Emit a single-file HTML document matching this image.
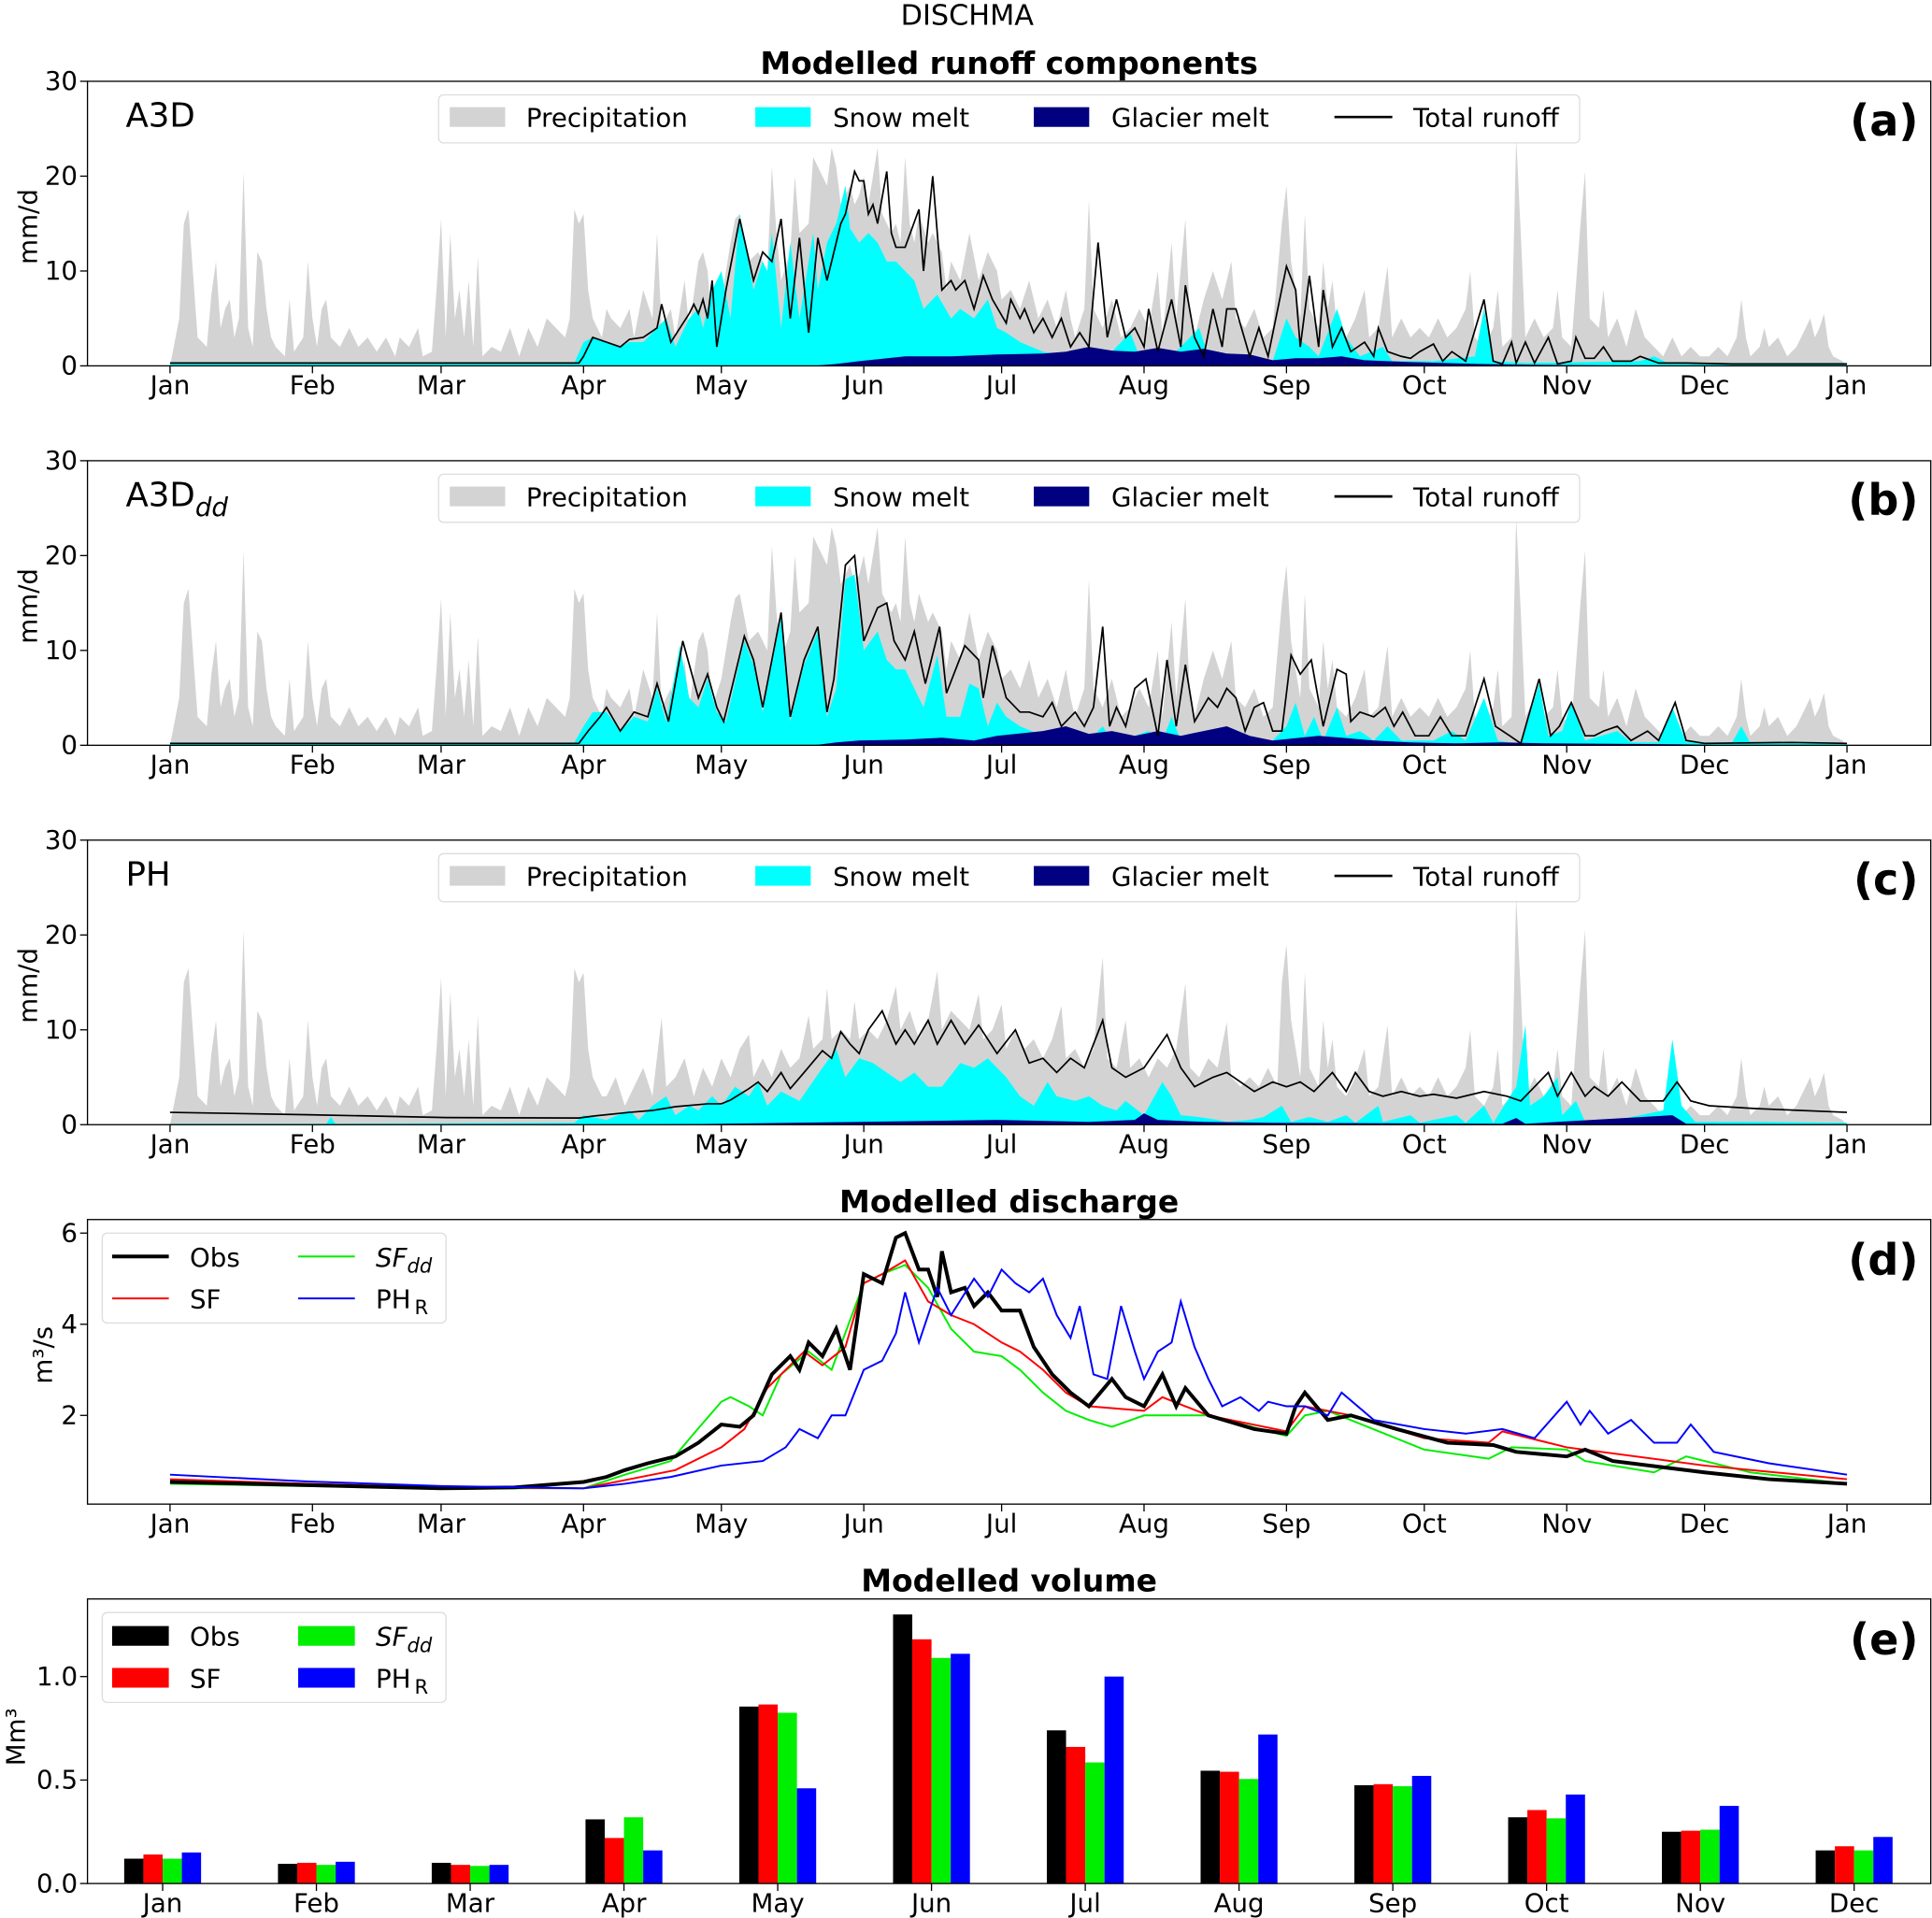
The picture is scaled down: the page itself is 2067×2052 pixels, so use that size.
<!DOCTYPE html>
<html><head><meta charset="utf-8">
<style>
html,body{margin:0;padding:0;background:#fff;}
svg{display:block;font-family:"DejaVu Sans","Liberation Sans",sans-serif;}
</style></head>
<body>
<svg id="fig" width="2067" height="2052" viewBox="0 0 1568 1557" preserveAspectRatio="none" xmlns="http://www.w3.org/2000/svg">
<text x="785" y="20" font-size="23" text-anchor="middle">DISCHMA</text>
<text x="819" y="60" font-size="25" font-weight="bold" text-anchor="middle">Modelled runoff components</text>
<text x="819" y="984" font-size="25" font-weight="bold" text-anchor="middle">Modelled discharge</text>
<text x="819" y="1292" font-size="25" font-weight="bold" text-anchor="middle">Modelled volume</text>
</svg>
<script>
// ---------- data ----------
const monthLabels = ["Jan","Feb","Mar","Apr","May","Jun","Jul","Aug","Sep","Oct","Nov","Dec","Jan"];
const monthStartDays = [0,31,59,90,120,151,181,212,243,273,304,334,365];
const runoffTicks = [0,10,20,30];
const dischargeTicks = [2,4,6];
const volumeTicks = [0.0,0.5,1.0];
const volumeTickLabels = ["0.0","0.5","1.0"];

const precipA = [[0,0],[2,5],[3,15],[4,16.5],[6,3],[8,2],[9,7.5],[10,11],[11,4],[12,6],[13,7],[14,3],[15,5],[16,20.5],[17,4],[18,2],[19,12],[20,11],[21,6],[22,3],[23,2],[25,1],[26,7],[27,1.5],[29,3],[30,11],[31,5],[32,2],[33,6],[34,7],[35,3],[37,2],[39,4],[41,2],[43,3],[45,1.5],[47,3],[49,1],[50,3],[52,2],[54,4],[55,1],[57,1.5],[58,8],[59,15.5],[60,3],[61,14],[62,5],[63,8],[64,3],[65,9],[66,2],[67,11.5],[68,1],[70,2],[72,1.5],[74,4],[76,1],[78,4],[80,2],[82,5],[84,4],[86,3],[87,5],[88,16.5],[89,15],[90,16],[91,8],[92,5],[94,3],[95,6],[96,5],[98,4],[100,6],[101,3],[103,8],[105,5],[106,14],[107,4],[109,6],[110,3],[112,9],[113,4],[115,11],[116,12],[117,10],[118,4],[120,7],[122,13],[123,15.5],[124,16],[126,11],[128,12],[130,10],[131,21],[132,14],[133,9],[135,12],[136,20],[137,14],[139,15],[140,22],[141,21],[142,20],[143,19],[144,23],[145,21],[146,17],[147,18],[148,19],[149,17],[150,18],[151,20],[152,17],[154,23],[155,16],[157,14],[158,15],[159,13],[160,22],[161,15],[162,13],[163,16],[165,13],[166,14],[168,12],[169,8],[170,11],[172,9],[174,14],[176,9],[178,12],[180,10],[181,7],[183,8],[185,6],[187,9],[189,5],[191,7],[193,4],[195,8],[196,5],[197,3],[199,6],[200,17.5],[201,6],[203,4],[205,7],[207,3],[209,4],[211,6],[213,4],[215,10],[216,3],[218,13],[219,5],[221,15.5],[222,5],[223,3],[225,7],[227,10],[229,7],[231,11],[232,5],[234,4],[236,6],[238,3],[240,4],[242,15],[243,19],[244,11],[246,5],[247,16],[248,6],[250,4],[251,11],[252,6],[253,9],[254,4],[256,3],[258,5],[260,8],[261,3],[263,4],[265,10.5],[266,3],[268,5],[270,3],[272,4],[274,3],[276,5],[278,3],[280,4],[282,6],[283,10],[284,3],[286,2],[288,4],[289,8],[290,2],[292,3],[293,24],[294,14],[295,3],[297,5],[299,3],[301,4],[302,8],[303,3],[305,2],[307,15],[308,20.5],[309,5],[311,4],[312,8],[313,3],[315,5],[317,2],[319,6],[321,3],[323,2],[325,1],[327,3],[329,1],[331,2],[333,1],[335,1],[337,2],[339,1],[341,3],[342,7],[343,3],[344,1],[346,2],[347,4],[348,2],[350,3],[352,1],[354,2],[356,4],[357,5],[358,3],[359,4],[360,5.5],[361,2],[362,1],[364,0.5],[365,0]];
const precipCMid = [[95,3],[97,5],[99,2],[101,4],[103,6],[105,3],[107,11.3],[108,4],[110,5],[112,7],[114,3],[116,6],[118,4],[120,7],[122,5],[124,8],[126,9.5],[127,5],[129,7],[131,5],[133,8],[135,6],[137,7],[139,11.5],[140,8],[142,9],[143,14.4],[144,9],[146,10],[148,9],[149,13],[150,9],[152,10],[154,9],[156,11],[158,14.6],[159,10],[161,12],[163,9],[165,11],[167,16.2],[168,10],[170,12],[172,11],[174,10],[176,13.8],[177,9],[179,10],[181,12.7],[182,8],[184,10],[186,8],[188,9],[190,7],[192,9],[194,12.5],[195,7],[197,8],[199,6],[201,8],[203,17.7],[204,7],[206,6],[208,11],[209,6],[211,7],[213,5],[215,7],[217,6],[219,8],[221,14.9],[222,6],[224,5],[226,7],[228,6],[230,10.8],[231,5],[233,4],[235,5],[237,4],[239,6],[241,4]];

const snowA = [[0,0.3],[88,0.3],[90,2.5],[92,3],[95,2.5],[98,2],[100,2.5],[103,2.5],[106,4],[108,5],[110,2],[113,5],[115,6],[116,4],[118,8],[120,10],[122,5],[124,16],[127,8],[129,11],[130,10],[131,14],[133,4],[135,13],[137,5],[140,14],[141,8],[143,13],[145,15],[147,19],[148,14.5],[150,13],[152,14],[154,13],[156,11],[158,11],[160,10],[162,9],[164,6],[167,7.5],[170,5],[172,6],[175,5],[178,7],[180,4],[182,3.5],[185,2.5],[190,1.5],[195,1],[199,1.5],[202,1],[205,1.5],[209,3.5],[211,1],[218,1],[224,4],[226,1],[235,0.8],[240,0.5],[243,5],[245,3],[248,2],[250,1],[254,6],[256,3],[259,1],[264,2],[266,0.5],[275,0.5],[284,1],[286,6],[288,0.5],[295,0.3],[320,0.5],[323,1],[326,0.3],[365,0.3]];
const glacierA = [[0,0],[140,0],[145,0.2],[150,0.5],[160,1],[170,1],[180,1.2],[190,1.3],[195,1.5],[200,2],[205,1.6],[210,1.5],[215,1.9],[220,1.5],[225,1.8],[230,1.3],[235,1.2],[240,0.6],[245,0.8],[250,0.8],[255,1],[260,0.6],[270,0.4],[285,0.2],[300,0.1],[320,0],[365,0]];
const totalA = [[0,0.3],[89,0.3],[90,1],[92,3],[95,2.5],[98,2],[100,2.8],[103,3],[106,4],[107,6.5],[109,2.5],[111,4],[113,5.5],[114,6.5],[115,5.5],[116,7],[117,5],[118,9],[119,2],[120,5],[121,8],[124,15.5],[127,9],[129,12],[131,11],[133,15.5],[135,5],[137,13.5],[139,3.5],[141,13.5],[143,9],[146,15],[147,16],[149,20.5],[150,19.5],[151,19.5],[152,16],[153,17],[154,15],[156,20.5],[157,14],[158,12.5],[160,12.5],[163,16.5],[164,10],[166,20],[168,8],[170,9],[171,8],[173,9],[175,6],[177,9.5],[179,7],[182,4.5],[183,7],[185,5],[186,6],[188,3.5],[190,5],[192,3],[194,5],[196,2],[198,3.5],[200,2],[202,13],[204,3],[206,7],[208,3],[210,4],[212,2],[213,6],[215,1.5],[218,7],[220,2],[221,8.5],[223,3],[225,1],[227,6],[229,2],[230,6],[232,6],[235,1],[237,4],[239,1],[243,10.5],[245,8],[246,2],[248,9.5],[250,2],[251,8],[253,2],[255,4],[257,1.5],[260,2.5],[262,1],[263,4],[265,1.5],[268,1],[270,0.8],[272,1.5],[275,2.3],[277,0.5],[279,1.5],[282,0.5],[286,7],[288,0.5],[290,0.2],[292,2.5],[293,0.3],[295,2.5],[297,0.3],[300,3],[302,0.2],[305,0.5],[306,3],[308,0.8],[310,0.8],[312,2],[314,0.5],[318,0.5],[320,1],[324,0.3],[330,0.3],[340,0.2],[365,0.2]];

const snowB = [[0,0.3],[88,0.3],[90,2],[92,3.5],[95,3.5],[98,1.5],[101,3],[104,2.5],[106,6],[108,2.5],[111,10.5],[113,5],[115,4],[117,7],[119,3.5],[121,2.5],[125,11],[127,8.5],[129,3.5],[133,13.5],[135,2.5],[138,8.5],[141,12],[143,3],[145,6],[147,17.5],[149,18],[151,10],[154,12],[156,9],[158,8],[160,8],[162,6],[164,4],[167,9.5],[169,3],[172,3],[174,6.5],[176,6],[178,2],[180,4.5],[182,3],[185,2],[190,1],[195,1],[200,0.5],[203,2],[205,0.5],[210,1],[213,1.5],[216,0.5],[218,3],[220,0.5],[226,1],[232,1],[236,0.5],[240,0.5],[243,2],[245,4.5],[247,1],[249,3],[251,0.5],[254,4],[256,1],[259,1.5],[262,0.5],[265,2],[268,0.5],[275,0.5],[279,1.5],[282,0.5],[286,5],[289,0.5],[294,0.1],[298,6.5],[300,1],[303,1.5],[305,4.5],[308,0.5],[315,1.5],[318,0.3],[324,0.3],[327,4],[330,0.3],[340,0.3],[342,2],[344,0.2],[365,0.2]];
const glacierB = [[0,0],[140,0],[145,0.3],[150,0.5],[160,0.6],[168,0.8],[175,0.5],[180,1],[190,1.5],[195,2],[200,1.2],[205,1.5],[210,1],[215,1.5],[220,1],[230,2],[235,1],[240,0.5],[250,1],[255,0.8],[262,0.5],[270,0.3],[280,0.2],[290,0.3],[300,0.2],[330,0.1],[340,0],[365,0]];
const totalB = [[0,0.2],[89,0.2],[91,1.5],[93.6,3],[95,4],[98,1.5],[101,3.5],[104,3],[106,6.5],[108.5,2.5],[111.6,11],[115,5],[117,7.5],[119,4],[120.5,2.5],[125,11.5],[127,9],[129,4],[133,14],[135,3],[138,9],[141,12.5],[143,3.5],[144.5,7],[147,19],[149,20],[151,11],[154,14.5],[156,15],[157.6,11],[160,9],[162,12],[164.4,6.5],[167.5,12.5],[169,5.5],[173,10.5],[176,9],[177,5],[179,10.5],[182,5],[185,3.5],[187,3.5],[190,3],[192,4.5],[194,2],[197,3.5],[199,2],[201,4],[203,12.5],[204.5,2],[206,4],[208,2],[210,6],[212.4,7],[215,1],[217,9],[219,2],[221,8.5],[223,2.5],[226,5],[228,4],[230,6],[232,5],[234,1.5],[236,4],[238,4.5],[240,1.5],[242,1.5],[244,9.5],[246,7.5],[248.4,9],[251,2],[254,8],[256,7.5],[257,2.5],[259,3.5],[262,3],[264.5,4],[266.4,2],[268.3,3.5],[271,1],[274,1],[276.5,3],[279,1],[282,1],[286,7],[288.5,2],[291.6,1],[294,0.2],[298,7],[300.5,1],[302.4,2],[305,4.5],[308,1],[310,1],[312,1.5],[315,2],[318,0.5],[321.6,1.5],[324,0.5],[327.6,4.5],[330,0.5],[334,0.2],[353,0.3],[365,0.2]];

const snowC = [[0,0.1],[34,0.1],[35,0.8],[36,0.1],[88,0.2],[90,1],[95,0.5],[100,1.5],[102,0.5],[105,2],[108,3],[110,1],[113,2],[115,1.5],[118,3],[120,2],[123,4],[126,3],[128,4.5],[130,2],[133,3.5],[137,2.5],[142,6],[145,8],[147,5],[150,7],[153,6.5],[156,5.5],[159,4.5],[162,5.5],[165,4],[168,4],[172,6.5],[175,6],[178,7],[182,5],[185,3],[188,2],[191,4.5],[193,3],[197,2.5],[200,3],[203,2],[206,1.5],[208,2.5],[212,1],[216,4.5],[218,3],[220,1],[224,0.8],[228,0.5],[230,0.3],[235,0.5],[238,0.8],[242,2],[244,0.3],[248,0.8],[252,0.3],[256,1],[258,0.2],[263,2],[264,0.3],[270,1],[272,0.2],[280,1],[282,0.2],[286,2],[288,0.2],[293,4],[295,10.5],[296,2],[299,3],[302,5],[303,1],[306,2.5],[308,0.3],[315,0.5],[325,1.5],[327,9],[329,2],[332,0.3],[345,0.3],[365,0.2]];
const glacierC = [[0,0],[100,0],[120,0.1],[150,0.3],[180,0.5],[200,0.3],[210,0.5],[212,1.2],[215,0.5],[225,0.3],[240,0.2],[290,0.1],[293,0.7],[295,0.1],[327,1],[330,0.1],[365,0]];
const totalC = [[0,1.3],[30,1.05],[60,0.75],[89,0.7],[92,0.9],[100,1.3],[105,1.5],[110,1.9],[117,2.2],[120,2.2],[122,2.6],[126,3.8],[128,4.5],[130,3.5],[133,5.5],[135,3.8],[138,5.5],[142,7.8],[144,7],[146,9.8],[148,8.5],[150,7.5],[152,10],[155,12],[158,8.5],[160,10],[162,8.5],[165,11],[167,8.5],[170,11],[173,8.5],[176,10.5],[180,7.5],[184,10],[187,6.5],[190,7],[193,5.5],[196,7],[199,6],[203,11],[205,6],[208,5],[212,6],[217,9.5],[220,6],[223,4],[227,5],[230,5.5],[233,4.5],[236,3.5],[240,4.5],[243,4],[246,4.5],[249,3.5],[253,5.5],[256,3.5],[258,5.5],[261,3.5],[264,3],[268,3.5],[272,3],[275,3.2],[280,2.8],[286,3.5],[291,3],[294,2.5],[297,4],[300,5.5],[302,3],[305,5.5],[308,3],[310,4],[313,3],[316,4.5],[320,2.5],[325,2.5],[328,4.5],[331,2.5],[335,2],[345,1.7],[365,1.3]];

const obsQ = [[0,0.54],[30,0.47],[59,0.4],[75,0.42],[90,0.54],[95,0.65],[99,0.8],[104,0.95],[110,1.1],[115,1.4],[120,1.8],[124,1.75],[127,2.0],[131,2.9],[135,3.3],[137,3.0],[139,3.6],[142,3.3],[145,3.9],[148,3.0],[151,5.1],[155,4.9],[158,5.9],[160,6.0],[163,5.2],[165,5.2],[167,4.6],[168,5.6],[170,4.7],[173,4.8],[175,4.4],[178,4.7],[181,4.3],[185,4.3],[188,3.5],[192,2.9],[196,2.5],[200,2.2],[205,2.8],[208,2.4],[212,2.2],[216,2.9],[219,2.2],[221,2.6],[226,2.0],[236,1.7],[243,1.6],[245,2.2],[247,2.5],[252,1.9],[257,2.0],[267,1.7],[278,1.4],[288,1.35],[293,1.2],[304,1.1],[308,1.25],[314,1.0],[334,0.75],[348,0.6],[365,0.5]];
const sfQ = [[0,0.6],[30,0.5],[59,0.42],[90,0.4],[100,0.6],[110,0.8],[120,1.3],[125,1.7],[130,2.6],[138,3.4],[142,3.1],[147,3.5],[151,4.9],[155,5.1],[160,5.4],[165,4.5],[170,4.2],[175,4.0],[181,3.6],[185,3.4],[190,3.0],[195,2.5],[200,2.2],[212,2.1],[216,2.4],[226,2.0],[243,1.65],[247,2.2],[257,2.0],[273,1.5],[287,1.4],[290,1.65],[304,1.3],[334,0.9],[365,0.6]];
const sfddQ = [[0,0.5],[30,0.45],[59,0.4],[90,0.4],[99,0.7],[109,1.0],[114,1.6],[120,2.3],[122,2.4],[126,2.2],[129,2.0],[133,2.9],[139,3.4],[144,3.0],[151,4.9],[155,5.1],[160,5.3],[165,4.8],[170,3.9],[175,3.4],[181,3.3],[185,3.0],[190,2.5],[195,2.1],[200,1.9],[205,1.75],[212,2.0],[221,2.0],[226,2.0],[243,1.55],[247,2.0],[252,2.1],[273,1.25],[287,1.05],[292,1.3],[304,1.25],[308,1.0],[323,0.75],[330,1.1],[344,0.75],[365,0.5]];
const phQ = [[0,0.7],[30,0.55],[59,0.45],[90,0.4],[99,0.5],[109,0.65],[120,0.9],[129,1.0],[134,1.3],[137,1.7],[141,1.5],[144,2.0],[147,2.0],[151,3.0],[155,3.2],[158,3.8],[160,4.7],[163,3.6],[167,4.8],[170,4.2],[175,5.0],[178,4.6],[181,5.2],[184,4.9],[187,4.7],[190,5.0],[193,4.2],[196,3.7],[198,4.4],[201,2.9],[204,2.8],[207,4.4],[210,3.4],[212,2.8],[215,3.4],[218,3.6],[220,4.5],[223,3.5],[226,2.8],[229,2.2],[233,2.4],[237,2.1],[239,2.3],[243,2.2],[247,2.2],[252,2.0],[255,2.5],[262,1.9],[273,1.7],[282,1.6],[290,1.7],[297,1.5],[304,2.3],[307,1.8],[309,2.1],[313,1.6],[318,1.9],[323,1.4],[328,1.4],[331,1.8],[336,1.2],[348,0.95],[365,0.7]];

const volMonths = ["Jan","Feb","Mar","Apr","May","Jun","Jul","Aug","Sep","Oct","Nov","Dec"];
const volObs  = [0.12,0.095,0.10,0.31,0.855,1.30,0.74,0.545,0.475,0.32,0.25,0.16];
const volSF   = [0.14,0.10,0.09,0.22,0.865,1.18,0.66,0.54,0.48,0.355,0.255,0.18];
const volSFdd = [0.12,0.09,0.085,0.32,0.825,1.09,0.585,0.505,0.47,0.315,0.26,0.16];
const volPH   = [0.15,0.105,0.09,0.16,0.46,1.11,1.0,0.72,0.52,0.43,0.375,0.225];

// ---------- drawing ----------
const NS="http://www.w3.org/2000/svg";
const svg=document.getElementById('fig');
function mk(tag, parent){ const e=document.createElementNS(NS,tag); (parent||svg).appendChild(e); return e; }
const X0=71, X1=1567;
const xDay = d => 138 + d*(1361/365);

function txt(parent, x, y, s, size, anchor, extra){
  const t=mk('text',parent); t.setAttribute('x',x); t.setAttribute('y',y);
  t.setAttribute('font-size',size); t.setAttribute('text-anchor',anchor||'start');
  t.textContent=s; if(extra) for(const k in extra) t.setAttribute(k,extra[k]); return t;
}

function monthAxis(g, bottom){
  monthLabels.forEach((m,i)=>{
    const x=xDay(monthStartDays[i]);
    const tk=mk('line',g); tk.setAttribute('x1',x);tk.setAttribute('x2',x);tk.setAttribute('y1',bottom);tk.setAttribute('y2',bottom+6);tk.setAttribute('stroke','#000');
     
    const t=txt(g,x,bottom+23,m,21,'middle');
     
  });
}

function frame(g, top, h){
  const r=mk('rect',g); r.setAttribute('x',X0); r.setAttribute('y',top); r.setAttribute('width',X1-X0); r.setAttribute('height',h);
  r.setAttribute('fill','none'); r.setAttribute('stroke','#000'); r.setAttribute('stroke-width','1');
   
}

function areaPath(pairs, yf){
  let d='M'+xDay(pairs[0][0])+','+yf(0);
  pairs.forEach(p=>{ d+=' L'+xDay(p[0]).toFixed(2)+','+yf(p[1]).toFixed(2); });
  d+=' L'+xDay(pairs[pairs.length-1][0])+','+yf(0)+' Z'; return d;
}
function linePath(pairs, yf){
  return pairs.map((p,i)=>(i?'L':'M')+xDay(p[0]).toFixed(2)+','+yf(p[1]).toFixed(2)).join(' ');
}

function runoffPanel(top, id, label, sub, precip, snow, glacier, total){
  const g=mk('g');  
  const bottom=top+231; const yf=v=>bottom - v*(231/30);
  const pp=mk('path',g); pp.setAttribute('d',areaPath(precip,yf)); pp.setAttribute('fill','#d3d3d3');
   
  const sp=mk('path',g); sp.setAttribute('d',areaPath(snow,yf)); sp.setAttribute('fill','#00ffff');
   
  const gp=mk('path',g); gp.setAttribute('d',areaPath(glacier,yf)); gp.setAttribute('fill','#000080');
   
  const tp=mk('path',g); tp.setAttribute('d',linePath(total,yf)); tp.setAttribute('fill','none'); tp.setAttribute('stroke','#000'); tp.setAttribute('stroke-width','1.3');
   
  frame(g,top,231);
  runoffTicks.forEach(v=>{
    const y=yf(v);
    const tk=mk('line',g); tk.setAttribute('x1',X0-6);tk.setAttribute('x2',X0);tk.setAttribute('y1',y);tk.setAttribute('y2',y);tk.setAttribute('stroke','#000');
     
    const t=txt(g,X0-8,y+7,String(v),21,'end');
     
  });
  monthAxis(g,bottom);
  const yl=txt(g,0,0,'mm/d',21,'middle',{transform:'translate(30,'+(top+118)+') rotate(-90)'});
   
  const pl=txt(g,102,top+37,label,27,'start');
  if(sub){ const ts=mk('tspan',pl); ts.setAttribute('font-size','21'); ts.setAttribute('font-style','italic'); ts.setAttribute('dy','8'); ts.textContent=sub; }
   
  const pid=txt(g,1557,top+44,'('+id+')',35,'end',{'font-weight':'bold'});
   
  const lg=mk('g',g);  
  const lb=mk('rect',lg); lb.setAttribute('x',356);lb.setAttribute('y',top+11);lb.setAttribute('width',926);lb.setAttribute('height',39);lb.setAttribute('rx',4);
  lb.setAttribute('fill','#fff');lb.setAttribute('fill-opacity','0.8');lb.setAttribute('stroke','#ddd');
   
  const items=[['Precipitation','#d3d3d3',365,427],['Snow melt','#00ffff',613,676],['Glacier melt','#000080',839,902]];
  items.forEach(it=>{
    const e=mk('g',lg);
     
    const r=mk('rect',e); r.setAttribute('x',it[2]); r.setAttribute('y',top+21); r.setAttribute('width',45); r.setAttribute('height',16); r.setAttribute('fill',it[1]);
    txt(e,it[3],top+37,it[0],21,'start');
  });
  const e=mk('g',lg);
   
  const l=mk('line',e); l.setAttribute('x1',1083);l.setAttribute('x2',1130);l.setAttribute('y1',top+29);l.setAttribute('y2',top+29);l.setAttribute('stroke','#000');l.setAttribute('stroke-width','2');
  txt(e,1147,top+37,'Total runoff',21,'start');
}

const precipC = precipA.filter(p=>p[0]<95).concat(precipCMid, precipA.filter(p=>p[0]>241));
runoffPanel(66,'a','A3D','',precipA,snowA,glacierA,totalA);
runoffPanel(374,'b','A3D','dd',precipA,snowB,glacierB,totalB);
runoffPanel(682,'c','PH','',precipC,snowC,glacierC,totalC);

// discharge panel
(function(){
  const top=990, bottom=1221;
  const g=mk('g');  
  const yf=v=>1223 - v*37;
  const series=[[sfddQ,'#00ee00',1.5,'sfdd-line'],[sfQ,'#ff0000',1.5,'sf-line'],[obsQ,'#000',3,'obs-line'],[phQ,'#0000ff',1.5,'phr-line']];
  series.forEach(s=>{
    const p=mk('path',g); p.setAttribute('d',linePath(s[0],yf)); p.setAttribute('fill','none'); p.setAttribute('stroke',s[1]); p.setAttribute('stroke-width',s[2]);
     
  });
  frame(g,top,231);
  dischargeTicks.forEach(v=>{
    const y=yf(v);
    const tk=mk('line',g); tk.setAttribute('x1',X0-6);tk.setAttribute('x2',X0);tk.setAttribute('y1',y);tk.setAttribute('y2',y);tk.setAttribute('stroke','#000');
     
    const t=txt(g,X0-8,y+7,String(v),21,'end');
     
  });
  monthAxis(g,bottom);
  const yl=txt(g,0,0,'m³/s',21,'middle',{transform:'translate(42,1100) rotate(-90)'});
   
  const pid=txt(g,1557,top+45,'(d)',35,'end',{'font-weight':'bold'});
   
  const lg=mk('g',g);  
  const lb=mk('rect',lg); lb.setAttribute('x',83);lb.setAttribute('y',1001);lb.setAttribute('width',279);lb.setAttribute('height',73);lb.setAttribute('rx',4);
  lb.setAttribute('fill','#fff');lb.setAttribute('fill-opacity','0.8');lb.setAttribute('stroke','#ddd');
  const ents=[['Obs','',91,1020,'#000',3],['SF','',91,1054,'#ff0000',1.5],['SF','dd',242,1020,'#00ee00',1.5],['PH','R',242,1054,'#0000ff',1.5]];
  ents.forEach(en=>{
    const e=mk('g',lg);
     
    const l=mk('line',e); l.setAttribute('x1',en[2]);l.setAttribute('x2',en[2]+46);l.setAttribute('y1',en[3]);l.setAttribute('y2',en[3]);l.setAttribute('stroke',en[4]);l.setAttribute('stroke-width',en[5]);
    const t=txt(e,en[2]+63,en[3]+8,en[0],21,'start');
    if(en[1]==='dd'){ t.setAttribute('font-style','italic'); const ts=mk('tspan',t); ts.setAttribute('font-size','16'); ts.setAttribute('dy','5'); ts.textContent='dd'; }
    if(en[1]==='R'){ const ts=mk('tspan',t); ts.setAttribute('font-size','16'); ts.setAttribute('dy','5'); ts.setAttribute('dx','3'); ts.textContent='R'; }
  });
})();

// volume panel
(function(){
  const top=1298, bottom=1529;
  const g=mk('g');  
  const yf=v=>bottom - v*168;
  const xc=i=>132 + i*124.8;
  const bw=15.6;
  const sets=[[volObs,'#000','bar-obs',-2],[volSF,'#ff0000','bar-sf',-1],[volSFdd,'#00ee00','bar-sfdd',0],[volPH,'#0000ff','bar-phr',1]];
  sets.forEach(s=>{
    s[0].forEach((v,i)=>{
      const r=mk('rect',g); r.setAttribute('x',xc(i)+s[3]*bw); r.setAttribute('y',yf(v)); r.setAttribute('width',bw); r.setAttribute('height',bottom-yf(v)); r.setAttribute('fill',s[1]);
       
    });
  });
  frame(g,top,231);
  volumeTicks.forEach((v,i)=>{
    const y=yf(v);
    const tk=mk('line',g); tk.setAttribute('x1',X0-6);tk.setAttribute('x2',X0);tk.setAttribute('y1',y);tk.setAttribute('y2',y);tk.setAttribute('stroke','#000');
     
    const t=txt(g,X0-8,y+7,volumeTickLabels[i],21,'end');
     
  });
  volMonths.forEach((m,i)=>{
    const tk=mk('line',g); tk.setAttribute('x1',xc(i));tk.setAttribute('x2',xc(i));tk.setAttribute('y1',bottom);tk.setAttribute('y2',bottom+6);tk.setAttribute('stroke','#000');
     
    const t=txt(g,xc(i),bottom+23,m,21,'middle');
     
  });
  const yl=txt(g,0,0,'Mm³',21,'middle',{transform:'translate(20,1410) rotate(-90)'});
   
  const pid=txt(g,1557,top+45,'(e)',35,'end',{'font-weight':'bold'});
   
  const lg=mk('g',g);  
  const lb=mk('rect',lg); lb.setAttribute('x',83);lb.setAttribute('y',1309);lb.setAttribute('width',279);lb.setAttribute('height',73);lb.setAttribute('rx',4);
  lb.setAttribute('fill','#fff');lb.setAttribute('fill-opacity','0.8');lb.setAttribute('stroke','#ddd');
  const ents=[['Obs','',91,1328,'#000'],['SF','',91,1362,'#ff0000'],['SF','dd',242,1328,'#00ee00'],['PH','R',242,1362,'#0000ff']];
  ents.forEach(en=>{
    const e=mk('g',lg);
     
    const r=mk('rect',e); r.setAttribute('x',en[2]);r.setAttribute('y',en[3]-8);r.setAttribute('width',46);r.setAttribute('height',16);r.setAttribute('fill',en[4]);
    const t=txt(e,en[2]+63,en[3]+8,en[0],21,'start');
    if(en[1]==='dd'){ t.setAttribute('font-style','italic'); const ts=mk('tspan',t); ts.setAttribute('font-size','16'); ts.setAttribute('dy','5'); ts.textContent='dd'; }
    if(en[1]==='R'){ const ts=mk('tspan',t); ts.setAttribute('font-size','16'); ts.setAttribute('dy','5'); ts.setAttribute('dx','3'); ts.textContent='R'; }
  });
})();
</script>
</body></html>
